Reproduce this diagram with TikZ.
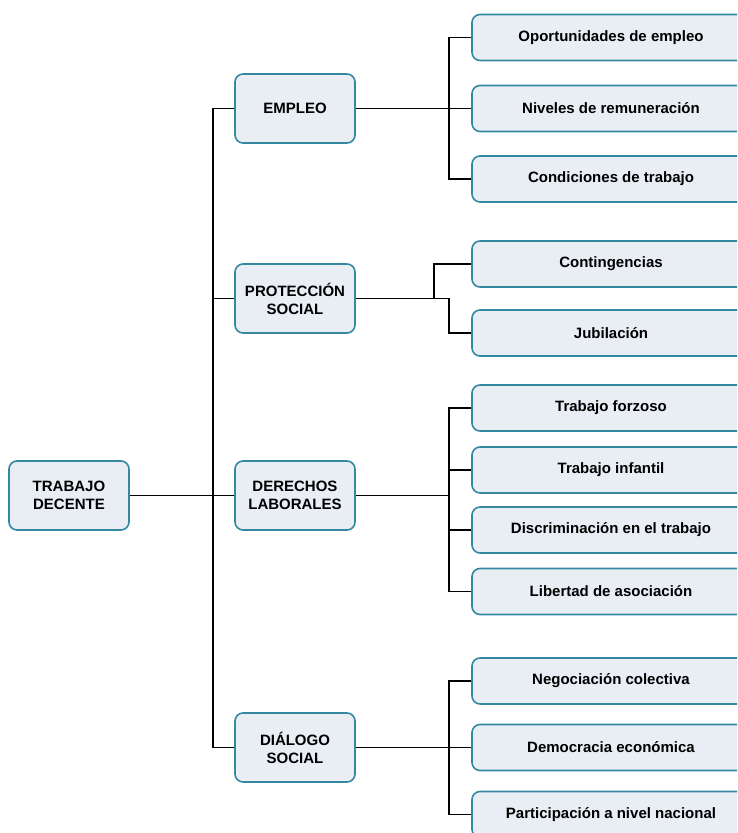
\documentclass[tikz,border=0pt]{standalone}
\usepackage{fontspec}
\setmainfont{Liberation Sans}
\definecolor{boxfill}{HTML}{E9EEF5}
\definecolor{boxline}{HTML}{3488A0}
\begin{document}
\begin{tikzpicture}[x=1pt,y=-1pt,
  box/.style={draw=boxline, line width=1.6pt, fill=boxfill, rounded corners=8pt,
    inner sep=0pt, font=\fontsize{15}{18}\selectfont\bfseries, align=center},
  mainbox/.style={box, minimum width=120pt, minimum height=69pt},
  leafbox/.style={box, minimum width=278pt, minimum height=46pt},
  conn/.style={draw=black, line width=1.1pt}]
\useasboundingbox (0,0) rectangle (737,833);
\clip (0,0) rectangle (737,833);
% root
\node[mainbox] (root) at (69,495.5) {TRABAJO\\DECENTE};
% level 1
\node[mainbox] (emp) at (295,108.5) {EMPLEO};
\node[mainbox] (pro) at (295,298.5) {PROTECCIÓN\\SOCIAL};
\node[mainbox] (der) at (295,495.5) {DERECHOS\\LABORALES};
\node[mainbox] (dia) at (295,747.5) {DIÁLOGO\\SOCIAL};
% level 2
\node[leafbox] (e1) at (611,37.5) {Oportunidades de empleo};
\node[leafbox] (e2) at (611,108.5) {Niveles de remuneración};
\node[leafbox] (e3) at (611,179) {Condiciones de trabajo};
\node[leafbox] (p1) at (611,264) {Contingencias};
\node[leafbox] (p2) at (611,333) {Jubilación};
\node[leafbox] (d1) at (611,408) {Trabajo forzoso};
\node[leafbox] (d2) at (611,470) {Trabajo infantil};
\node[leafbox] (d3) at (611,530) {Discriminación en el trabajo};
\node[leafbox] (d4) at (611,591.5) {Libertad de asociación};
\node[leafbox] (s1) at (611,681) {Negociación colectiva};
\node[leafbox] (s2) at (611,747.5) {Democracia económica};
\node[leafbox] (s3) at (611,814.5) {Participación a nivel nacional};
% junction coordinates
\coordinate (trunk) at (213,495.5);
% root to level 1
\draw[conn] (root.east) -- (der.west);
\draw[conn] (emp.west) -| (trunk);
\draw[conn] (pro.west) -| (trunk);
\draw[conn] (dia.west) -| (trunk);
% EMPLEO
\coordinate (je) at (449,108.5);
\draw[conn] (emp.east) -- (e2.west);
\draw[conn] (e1.west) -| (je);
\draw[conn] (e3.west) -| (je);
% PROTECCION
\coordinate (jp) at (434,298.5);
\coordinate (jp2) at (449,298.5);
\draw[conn] (pro.east) -- (jp2) |- (p2.west);
\draw[conn] (jp) |- (p1.west);
% DERECHOS
\coordinate (jd) at (449,495.5);
\draw[conn] (der.east) -- (jd);
\draw[conn] (d1.west) -| (jd);
\draw[conn] (d2.west) -| (jd);
\draw[conn] (d3.west) -| (jd);
\draw[conn] (d4.west) -| (jd);
% DIALOGO
\coordinate (js) at (449,747.5);
\draw[conn] (dia.east) -- (s2.west);
\draw[conn] (s1.west) -| (js);
\draw[conn] (s3.west) -| (js);
\end{tikzpicture}
\end{document}
